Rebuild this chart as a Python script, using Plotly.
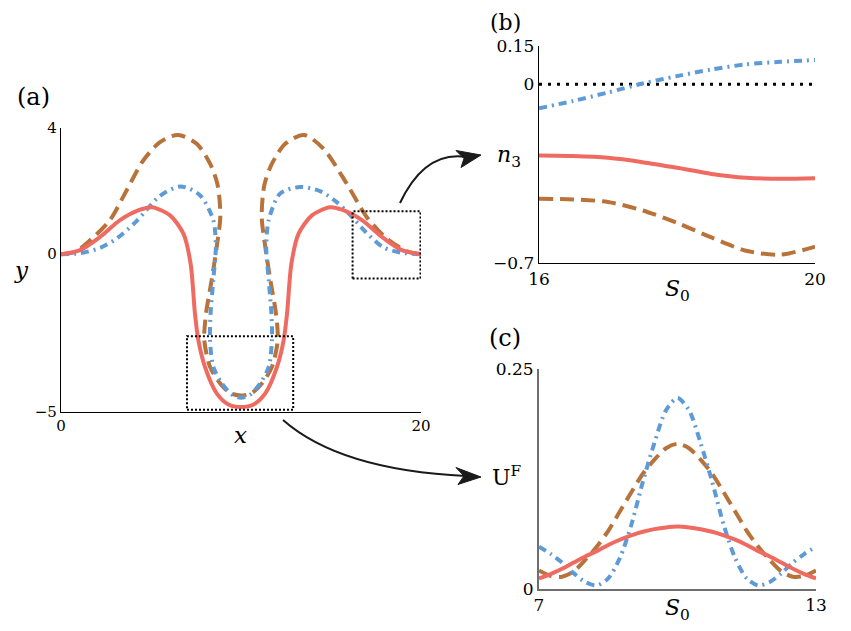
import plotly.graph_objects as go

# the page body adds an 8px margin, so the figure is drawn 8px in and 8px down
OFF = 8
W, H = 851 - OFF, 631 - OFF
RED = "#EF6B62"
BROWN = "#B8733A"
BLUE = "#5E9BD6"
SERIF = "DejaVu Serif"

# (a) y against x
a_red_x = [0, 1.06, 2.17, 3.28, 4.39, 5.05, 6.06, 6.8, 7.2, 7.44, 7.63, 8.0, 8.65, 9.3, 10,
           10.7, 11.35, 12.0, 12.37, 12.56, 12.8, 13.2, 13.94, 14.95, 15.61, 16.72, 17.83, 18.94, 20]
a_red_y = [0, 0.13, 0.55, 1.08, 1.41, 1.49, 1.23, 0.65, -0.3, -1.87, -2.72, -3.57, -4.41, -4.76, -4.84,
           -4.76, -4.41, -3.57, -2.72, -1.87, -0.3, 0.65, 1.23, 1.49, 1.41, 1.08, 0.55, 0.13, 0]

a_brown_x = [0, 0.8, 1.61, 2.72, 3.65, 4.57, 5.5, 6.5, 7.54, 8.28, 8.7, 8.85, 8.65, 8.37, 8.06, 7.96,
             8.28, 8.83, 9.4, 10, 10.6, 11.17, 11.72, 12.04, 11.94, 11.63, 11.35, 11.15, 11.3, 11.72,
             12.46, 13.5, 14.57, 15.87, 16.98, 18.09, 19.2, 20]
a_brown_y = [0, 0.08, 0.44, 1.08, 2.03, 2.97, 3.55, 3.78, 3.5, 2.87, 2.2, 1.2, 0.23, -0.82, -1.87, -2.72,
             -3.57, -4.09, -4.4, -4.48, -4.4, -4.09, -3.57, -2.72, -1.87, -0.82, 0.23, 1.2, 2.2, 2.87,
             3.5, 3.78, 3.35, 2.24, 1.18, 0.5, 0.1, 0]

a_blue_x = [0, 1.06, 2.17, 3.1, 4.2, 5.5, 6.64, 7.72, 8.46, 8.6, 8.46, 8.31, 8.28, 8.46, 8.93, 9.5, 10,
            10.5, 11.07, 11.54, 11.72, 11.69, 11.54, 11.4, 11.54, 12.17, 13.28, 14.39, 15.32, 16.06,
            16.9, 17.9, 18.9, 20]
a_blue_y = [0, 0.03, 0.2, 0.5, 1.05, 1.85, 2.15, 1.87, 1.08, 0.23, -0.82, -1.88, -2.72, -3.57, -4.09,
            -4.45, -4.55, -4.45, -4.09, -3.57, -2.72, -1.88, -0.82, 0.23, 1.08, 1.92, 2.13, 2.0, 1.65,
            1.25, 0.72, 0.22, 0.05, 0]

# (b) n3 against S0
b_s = [16, 16.5, 17, 17.5, 18, 18.5, 19, 19.5, 20]
b_blue = [-0.094, -0.065, -0.032, 0.003, 0.032, 0.058, 0.078, 0.088, 0.095]
b_red = [-0.279, -0.281, -0.288, -0.305, -0.327, -0.351, -0.366, -0.37, -0.368]
b_brown = [-0.448, -0.451, -0.461, -0.494, -0.543, -0.6, -0.652, -0.667, -0.636]
b_ref_s = [16, 20]
b_ref = [0, 0]

# (c) U^F against S0
c_s = [7, 7.25, 7.5, 7.75, 8, 8.25, 8.5, 8.75, 9, 9.25, 9.5, 9.75, 10,
       10.25, 10.5, 10.75, 11, 11.25, 11.5, 11.75, 12, 12.25, 12.5, 12.75, 13]
c_blue = [0.048, 0.040, 0.030, 0.018, 0.008, 0.004, 0.012, 0.035, 0.073, 0.122, 0.166, 0.203, 0.217,
          0.203, 0.166, 0.122, 0.073, 0.035, 0.012, 0.004, 0.008, 0.018, 0.030, 0.040, 0.048]
c_brown = [0.021, 0.015, 0.014, 0.020, 0.033, 0.048, 0.066, 0.088, 0.110, 0.131, 0.147, 0.160, 0.165,
           0.160, 0.147, 0.131, 0.110, 0.088, 0.066, 0.048, 0.033, 0.020, 0.014, 0.015, 0.021]
c_red = [0.012, 0.017, 0.023, 0.030, 0.037, 0.043, 0.050, 0.056, 0.061, 0.065, 0.068, 0.070, 0.071,
         0.070, 0.068, 0.065, 0.061, 0.056, 0.050, 0.043, 0.037, 0.030, 0.023, 0.017, 0.012]


# screen pixel -> paper fraction
def fx(p):
    return (p - OFF) / W


def fy(p):
    return 1 - (p - OFF) / H


fig = go.Figure()

styles = [(BROWN, "14px,7px"), (BLUE, "8px,5px,2px,5px"), (RED, "solid")]


def add_set(xs, ys, axis):
    for (col, dash), x, y in zip(styles, xs, ys):
        fig.add_trace(go.Scatter(x=x, y=y, mode="lines", xaxis="x" + axis, yaxis="y" + axis,
                                 line=dict(color=col, width=4, dash=dash, shape="spline", smoothing=0.8),
                                 hoverinfo="skip", showlegend=False))


add_set([a_brown_x, a_blue_x, a_red_x], [a_brown_y, a_blue_y, a_red_y], "")
fig.add_trace(go.Scatter(x=b_ref_s, y=b_ref, mode="lines", xaxis="x2", yaxis="y2",
                         line=dict(color="black", width=3, dash="3px,6px"),
                         hoverinfo="skip", showlegend=False))
add_set([b_s, b_s, b_s], [b_brown, b_blue, b_red], "2")
add_set([c_s, c_s, c_s], [c_brown, c_blue, c_red], "3")


def axis(dom, rng, vals, text, size, color="black", lw=1.4):
    return dict(domain=dom, range=rng, tickvals=vals, ticktext=text, showgrid=False, zeroline=False,
                showline=True, linecolor=color, linewidth=lw, ticks="", automargin=False,
                tickfont=dict(family=SERIF, size=size, color="black"), fixedrange=True)


fig.update_layout(
    width=W, height=H, margin=dict(l=0, r=0, t=0, b=0),
    paper_bgcolor="white", plot_bgcolor="white",
    font=dict(family=SERIF),
    xaxis=axis([fx(61), fx(421)], [0, 20], [0, 20], ["0", "20"], 15),
    yaxis=axis([fy(412), fy(128)], [-5, 4], [-5, 0, 4], ["−5", "0", "4"], 15),
    xaxis2=axis([fx(539), fx(815)], [16, 20], [16, 20], ["16", "20"], 17),
    yaxis2=axis([fy(263), fy(46)], [-0.7, 0.15], [-0.7, 0, 0.15], ["−0.7", "0", "0.15"], 17),
    xaxis3=axis([fx(539), fx(816)], [7, 13], [7, 13], ["7", "13"], 17, "#6e6e6e", 2),
    yaxis3=axis([fy(589), fy(369)], [0, 0.25], [0, 0.25], ["0", "0.25"], 17, "#6e6e6e", 2),
)
fig.layout.yaxis2.anchor = "x2"
fig.layout.xaxis2.anchor = "y2"
fig.layout.yaxis3.anchor = "x3"
fig.layout.xaxis3.anchor = "y3"

# zoom windows on panel (a)
box = dict(color="black", width=2, dash="2px,2px")
fig.add_shape(type="rect", xref="x", yref="y", x0=7.0, x1=12.9, y0=-4.93, y1=-2.6, line=box)
fig.add_shape(type="rect", xref="x", yref="y", x0=16.2, x1=19.97, y0=-0.77, y1=1.36, line=box)


def pt(x, y):
    return f"{fx(x):.4f},{fy(y):.4f}"


arrows = [
    ((400, 203), (425, 150), (467, 157), [(481, 155), (456, 150.5), (464, 158.5), (461, 167.5)]),
    ((283, 420), (340, 470), (466, 476), [(481, 477), (456, 467.5), (464, 476), (458, 484.5)]),
]
for s, c, e, head in arrows:
    fig.add_shape(type="path", xref="paper", yref="paper",
                  path=f"M {pt(*s)} Q {pt(*c)} {pt(*e)}", line=dict(color="#1a1a1a", width=2))
    fig.add_shape(type="path", xref="paper", yref="paper",
                  path="M " + " L ".join(pt(*p) for p in head) + " Z",
                  fillcolor="#1a1a1a", line=dict(color="#1a1a1a", width=1))

labels = [
    ("(a)", 33, 97, 24), ("(b)", 505, 22, 22), ("(c)", 505, 338, 24),
    ("<i>y</i>", 22, 270, 23), ("<i>x</i>", 240, 435, 23),
    ("<i>n</i><sub>3</sub>", 509, 156, 22), ("<i>S</i><sub>0</sub>", 677, 290, 22),
    ("U<sup>F</sup>", 507, 476, 22), ("<i>S</i><sub>0</sub>", 677, 609, 22),
]
for text, x, y, size in labels:
    fig.add_annotation(text=text, x=fx(x), y=fy(y), xref="paper", yref="paper", showarrow=False,
                       xanchor="center", yanchor="middle", font=dict(family=SERIF, size=size, color="black"))

fig.write_html("out.html")
